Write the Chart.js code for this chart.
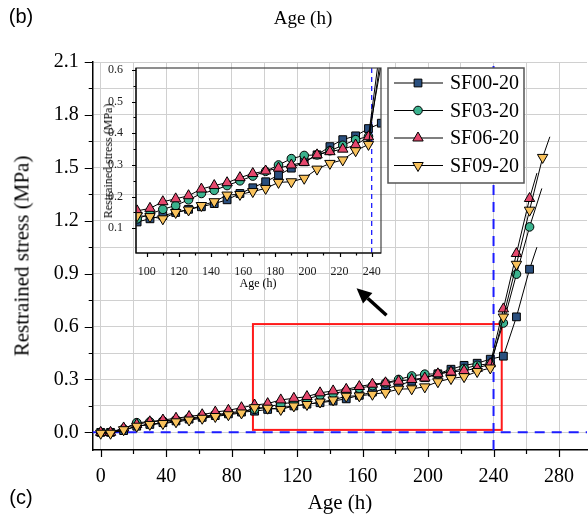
<!DOCTYPE html>
<html>
<head>
<meta charset="utf-8">
<script src="https://cdn.jsdelivr.net/npm/chart.js@4.4.1/dist/chart.umd.min.js"></script>
<style>
  html, body { margin: 0; padding: 0; background: #fff; overflow: hidden; }
  #wrap { position: relative; width: 588px; height: 515px; overflow: hidden; }
  #main { position: absolute; left: 0; top: 0; }
  #inset { position: absolute; left: 85px; top: 55px; }
  .lbl { position: absolute; transform: translate(-50%, -50%); white-space: nowrap; line-height: 1; color: #000; }
  .serif { font-family: 'Liberation Serif', 'Times New Roman', serif; }
  .sans { font-family: 'Liberation Sans', Arial, sans-serif; }
  .rot { transform: translate(-50%, -50%) rotate(-90deg); }
</style>
</head>
<body>
<div id="wrap">
  <canvas id="main" width="594" height="515"></canvas>
  <canvas id="inset" width="310" height="240"></canvas>
  <div class="lbl sans" style="left:21px; top:16px; font-size:20px;">(b)</div>
  <div class="lbl serif" style="left:303px; top:17px; font-size:19px;">Age (h)</div>
  <div class="lbl sans" style="left:21px; top:497px; font-size:20px;">(c)</div>
  <div class="lbl serif" style="left:340px; top:502px; font-size:21px;">Age (h)</div>
  <div class="lbl serif rot" style="left:22px; top:256px; font-size:21px;">Restrained stress (MPa)</div>
  <div class="lbl serif" style="left:258px; top:283px; font-size:12px;">Age (h)</div>
  <div class="lbl serif rot" style="left:108px; top:161px; font-size:12px;">Restrained stress (MPa)</div>
</div>
<script>
// measurement ages (h)
const AGE = [0, 6, 14, 22, 30, 38, 46, 54, 62, 70, 78, 86, 94, 102, 110, 118, 126, 134, 142,
             150, 158, 166, 174, 182, 190, 198, 206, 214, 222, 230, 238, 246, 254, 262, 270];

// restrained stress (MPa) for each mix
const SF00 = [0.00, 0.00, 0.01, 0.035, 0.045, 0.055, 0.065, 0.075, 0.085, 0.095, 0.105, 0.115,
              0.12, 0.13, 0.14, 0.15, 0.16, 0.168, 0.178, 0.19, 0.21, 0.228, 0.247, 0.268, 0.29,
              0.31, 0.332, 0.358, 0.38, 0.392, 0.415, 0.432, 0.655, 0.925];
const SF03 = [0.00, 0.00, 0.02, 0.055, 0.06, 0.065, 0.07, 0.08, 0.09, 0.10, 0.11, 0.12,
              0.13, 0.145, 0.16, 0.172, 0.19, 0.21, 0.22, 0.235, 0.25, 0.265, 0.28, 0.30, 0.32,
              0.33, 0.332, 0.345, 0.362, 0.38, 0.39, 0.62, 0.897, 1.165];
const SF06 = [0.00, 0.00, 0.025, 0.045, 0.06, 0.07, 0.08, 0.09, 0.10, 0.115, 0.125, 0.14,
              0.155, 0.163, 0.184, 0.193, 0.203, 0.224, 0.235, 0.244, 0.26, 0.273, 0.281, 0.29, 0.30,
              0.308, 0.332, 0.342, 0.35, 0.363, 0.389, 0.70, 1.014, 1.326];
const SF09 = [-0.005, -0.005, 0.015, 0.035, 0.045, 0.05, 0.06, 0.07, 0.08, 0.09, 0.10, 0.11,
              0.14, 0.137, 0.13, 0.15, 0.158, 0.172, 0.184, 0.205, 0.207, 0.216, 0.226, 0.245, 0.247,
              0.258, 0.287, 0.305, 0.316, 0.345, 0.365, 0.654, 0.953, 1.26, 1.559];

// last (unmarked) point of each curve
const TAIL_AGE = [266.5, 269.5, 266.5, 274.4];
const TAIL_STRESS = [1.05, 1.383, 1.47, 1.676];

const SERIES_NAMES = ['SF00-20', 'SF03-20', 'SF06-20', 'SF09-20'];
const SERIES_COLORS = ['#2a4f7e', '#3bb28e', '#e5486d', '#f9c25c'];
const SERIES_MARKERS = ['rect', 'circle', 'triangle', 'triangle'];
const SERIES_ROTATION = [0, 0, 0, 180];
const SERIES_RADIUS = [5.5, 4.3, 6, 6];

// axis ticks
const X_TICKS = [0, 20, 40, 60, 80, 100, 120, 140, 160, 180, 200, 220, 240, 260, 280];
const Y_TICKS = [0, 0.15, 0.3, 0.45, 0.6, 0.75, 0.9, 1.05, 1.2, 1.35, 1.5, 1.65, 1.8, 1.95, 2.1];
const INSET_X_TICKS = [100, 110, 120, 130, 140, 150, 160, 170, 180, 190, 200, 210, 220, 230, 240];
const INSET_Y_TICKS = [0.1, 0.15, 0.2, 0.25, 0.3, 0.35, 0.4, 0.45, 0.5, 0.55, 0.6];

// zoomed window shown in the inset (data units)
const ZOOM_X = [93, 245];
const ZOOM_Y = [0.014, 0.614];
const ONSET_AGE = 240;
// arrow from the box to the inset (data units)
const ARROW_FROM = [174.6, 0.664];
const ARROW_TO = [156.3, 0.817];

const SERIF = "'Liberation Serif', 'Times New Roman', serif";

function buildDatasets() {
    const all = [SF00, SF03, SF06, SF09];
    return all.map(function(values, s) {
        const pts = values.map(function(v, i) { return { x: AGE[i], y: v }; });
        pts.push({ x: TAIL_AGE[s], y: TAIL_STRESS[s] });
        return {
            label: SERIES_NAMES[s],
            data: pts,
            order: 3 - s,
            borderColor: '#000',
            borderWidth: 1,
            backgroundColor: SERIES_COLORS[s],
            pointBackgroundColor: SERIES_COLORS[s],
            pointBorderColor: '#000',
            pointBorderWidth: 1,
            pointStyle: SERIES_MARKERS[s],
            pointRotation: SERIES_ROTATION[s],
            pointRadius: function(ctx) {
                return ctx.dataIndex === pts.length - 1 ? 0 : SERIES_RADIUS[s];
            },
            tension: 0,
            fill: false
        };
    });
}

function drawMarker(ctx, s, x, y) {
    const r = SERIES_RADIUS[s];
    ctx.save();
    ctx.fillStyle = SERIES_COLORS[s];
    ctx.strokeStyle = '#000';
    ctx.lineWidth = 1;
    ctx.beginPath();
    if (SERIES_MARKERS[s] === 'rect') {
        const h = r * Math.SQRT1_2;
        ctx.rect(x - h, y - h, 2 * h, 2 * h);
    } else if (SERIES_MARKERS[s] === 'circle') {
        ctx.arc(x, y, r, 0, Math.PI * 2);
    } else {
        const dir = SERIES_ROTATION[s] === 180 ? -1 : 1;
        ctx.moveTo(x, y - dir * r);
        ctx.lineTo(x + r * 0.866, y + dir * r * 0.5);
        ctx.lineTo(x - r * 0.866, y + dir * r * 0.5);
        ctx.closePath();
    }
    ctx.fill();
    ctx.stroke();
    ctx.restore();
}

// keep the plot area exactly where the axes say, no label overflow padding
function noPad(scale) {
    scale.paddingLeft = 0;
    scale.paddingRight = 0;
    scale.paddingTop = 0;
    scale.paddingBottom = 0;
}

// main chart decorations
const mainDecor = {
    id: 'mainDecor',
    beforeDatasetsDraw: function(chart) {
        const ctx = chart.ctx;
        const a = chart.chartArea;
        const xs = chart.scales.x, ys = chart.scales.y;
        ctx.save();
        // red zoom box
        ctx.strokeStyle = '#ff1a1a';
        ctx.lineWidth = 2;
        const x0 = xs.getPixelForValue(ZOOM_X[0]), x1 = xs.getPixelForValue(ZOOM_X[1]);
        const y0 = ys.getPixelForValue(ZOOM_Y[0]), y1 = ys.getPixelForValue(ZOOM_Y[1]);
        ctx.strokeRect(x0, y1, x1 - x0, y0 - y1);
        // blue dashed reference lines
        ctx.strokeStyle = '#1c1cff';
        ctx.lineWidth = 2;
        ctx.setLineDash([10, 7]);
        const yz = ys.getPixelForValue(0);
        ctx.beginPath();
        ctx.moveTo(a.left, yz);
        ctx.lineTo(a.right, yz);
        const xo = xs.getPixelForValue(ONSET_AGE);
        ctx.moveTo(xo, a.bottom);
        ctx.lineTo(xo, a.top);
        ctx.stroke();
        ctx.restore();
    },
    afterDraw: function(chart) {
        const ctx = chart.ctx;
        const a = chart.chartArea;
        const xs = chart.scales.x, ys = chart.scales.y;
        ctx.save();
        // tick marks
        ctx.strokeStyle = '#000';
        ctx.lineWidth = 1.2;
        ctx.beginPath();
        X_TICKS.forEach(function(v, i) {
            const px = Math.round(xs.getPixelForValue(v)) + 0.5;
            ctx.moveTo(px, a.bottom);
            ctx.lineTo(px, a.bottom + (i % 2 === 0 ? 7 : 4));
        });
        Y_TICKS.forEach(function(v, i) {
            const py = Math.round(ys.getPixelForValue(v)) + 0.5;
            ctx.moveTo(a.left, py);
            ctx.lineTo(a.left - (i % 2 === 0 ? 8 : 4), py);
        });
        ctx.stroke();

        // arrow
        const ax = xs.getPixelForValue(ARROW_FROM[0]), ay = ys.getPixelForValue(ARROW_FROM[1]);
        const bx = xs.getPixelForValue(ARROW_TO[0]), by = ys.getPixelForValue(ARROW_TO[1]);
        const ang = Math.atan2(by - ay, bx - ax);
        const headLen = 15, headHalf = 7;
        const hx = bx - headLen * Math.cos(ang), hy = by - headLen * Math.sin(ang);
        ctx.lineWidth = 3.5;
        ctx.beginPath();
        ctx.moveTo(ax, ay);
        ctx.lineTo(hx, hy);
        ctx.stroke();
        ctx.fillStyle = '#000';
        ctx.beginPath();
        ctx.moveTo(bx, by);
        ctx.lineTo(hx + headHalf * Math.sin(ang), hy - headHalf * Math.cos(ang));
        ctx.lineTo(hx - headHalf * Math.sin(ang), hy + headHalf * Math.cos(ang));
        ctx.closePath();
        ctx.fill();

        // legend
        const lx = 388, ly = 68, lw = 136, lh = 115;
        ctx.fillStyle = '#fff';
        ctx.fillRect(lx, ly, lw, lh);
        ctx.strokeStyle = '#555';
        ctx.lineWidth = 1.5;
        ctx.strokeRect(lx, ly, lw, lh);
        ctx.font = '20px ' + SERIF;
        ctx.textBaseline = 'middle';
        ctx.textAlign = 'left';
        SERIES_NAMES.forEach(function(name, s) {
            const ry = ly + 15 + s * 27.5;
            ctx.strokeStyle = '#000';
            ctx.lineWidth = 1.2;
            ctx.beginPath();
            ctx.moveTo(lx + 6, ry);
            ctx.lineTo(lx + 55, ry);
            ctx.stroke();
            drawMarker(ctx, s, lx + 30, ry);
            ctx.fillStyle = '#000';
            ctx.fillText(name, lx + 62, ry + 1);
        });
        ctx.restore();
    }
};

// inset decorations
const insetDecor = {
    id: 'insetDecor',
    beforeDatasetsDraw: function(chart) {
        const ctx = chart.ctx;
        const a = chart.chartArea;
        const xo = chart.scales.x.getPixelForValue(ONSET_AGE);
        ctx.save();
        ctx.strokeStyle = '#1c1cff';
        ctx.lineWidth = 1.3;
        ctx.setLineDash([5, 4]);
        ctx.beginPath();
        ctx.moveTo(xo, a.bottom);
        ctx.lineTo(xo, a.top);
        ctx.stroke();
        ctx.restore();
    },
    afterDraw: function(chart) {
        const ctx = chart.ctx;
        const a = chart.chartArea;
        const xs = chart.scales.x, ys = chart.scales.y;
        ctx.save();
        ctx.strokeStyle = '#444';
        ctx.lineWidth = 1.2;
        ctx.strokeRect(a.left, a.top, a.right - a.left, a.bottom - a.top);
        ctx.strokeStyle = '#000';
        ctx.beginPath();
        ctx.moveTo(a.left, a.top);
        ctx.lineTo(a.left, a.bottom);
        ctx.lineTo(a.right, a.bottom);
        INSET_X_TICKS.forEach(function(v, i) {
            const px = Math.round(xs.getPixelForValue(v)) + 0.5;
            ctx.moveTo(px, a.bottom);
            ctx.lineTo(px, a.bottom + (i % 2 === 0 ? 4 : 2.5));
        });
        INSET_Y_TICKS.forEach(function(v, i) {
            const py = Math.round(ys.getPixelForValue(v)) + 0.5;
            ctx.moveTo(a.left, py);
            ctx.lineTo(a.left - (i % 2 === 0 ? 4 : 2.5), py);
        });
        ctx.stroke();
        ctx.restore();
    }
};

const mainChart = new Chart(document.getElementById('main'), {
    type: 'line',
    data: { datasets: buildDatasets() },
    options: {
        responsive: false,
        animation: false,
        devicePixelRatio: 1,
        layout: { padding: { top: 62, right: 0, bottom: 0, left: 0 } },
        plugins: { legend: { display: false }, tooltip: { enabled: false } },
        scales: {
            x: {
                type: 'linear',
                min: -4.9,
                max: 297.1,
                afterBuildTicks: function(axis) { axis.ticks = X_TICKS.map(function(v) { return { value: v }; }); },
                afterFit: function(scale) { scale.height = 65; noPad(scale); },
                grid: { color: '#d0d0d0', lineWidth: 1, drawTicks: false },
                border: { display: true, color: '#000', width: 1.5 },
                ticks: {
                    autoSkip: false,
                    maxRotation: 0,
                    padding: 15,
                    color: '#000',
                    font: { family: SERIF, size: 20 },
                    callback: function(v, i) { return i % 2 === 0 ? String(v) : ''; }
                }
            },
            y: {
                type: 'linear',
                min: -0.1,
                max: 2.1,
                afterBuildTicks: function(axis) { axis.ticks = Y_TICKS.map(function(v) { return { value: v }; }); },
                afterFit: function(scale) { scale.width = 92.7; noPad(scale); },
                grid: { color: '#d0d0d0', lineWidth: 1, drawTicks: false },
                border: { display: true, color: '#000', width: 1.5 },
                ticks: {
                    autoSkip: false,
                    padding: 14,
                    color: '#000',
                    font: { family: SERIF, size: 20 },
                    callback: function(v, i) { return i % 2 === 0 ? v.toFixed(1) : ''; }
                }
            }
        }
    },
    plugins: [mainDecor]
});

const insetChart = new Chart(document.getElementById('inset'), {
    type: 'line',
    data: { datasets: buildDatasets() },
    options: {
        responsive: false,
        animation: false,
        devicePixelRatio: 1,
        layout: { padding: { top: 13, right: 14, bottom: 0, left: 0 } },
        plugins: { legend: { display: false }, tooltip: { enabled: false } },
        scales: {
            x: {
                type: 'linear',
                min: 93.3,
                max: 245.8,
                afterBuildTicks: function(axis) { axis.ticks = INSET_X_TICKS.map(function(v) { return { value: v }; }); },
                afterFit: function(scale) { scale.height = 42; noPad(scale); },
                grid: { display: false, drawTicks: false },
                border: { display: false },
                ticks: {
                    autoSkip: false,
                    maxRotation: 0,
                    padding: 12,
                    color: '#222',
                    font: { family: SERIF, size: 12 },
                    callback: function(v, i) { return i % 2 === 0 ? String(v) : ''; }
                }
            },
            y: {
                type: 'linear',
                min: 0.022,
                max: 0.6063,
                afterBuildTicks: function(axis) { axis.ticks = INSET_Y_TICKS.map(function(v) { return { value: v }; }); },
                afterFit: function(scale) { scale.width = 51; noPad(scale); },
                grid: { display: false, drawTicks: false },
                border: { display: false },
                ticks: {
                    autoSkip: false,
                    padding: 13,
                    color: '#222',
                    font: { family: SERIF, size: 12 },
                    callback: function(v, i) { return i % 2 === 0 ? v.toFixed(1) : ''; }
                }
            }
        }
    },
    plugins: [insetDecor]
});
</script>
</body>
</html>
